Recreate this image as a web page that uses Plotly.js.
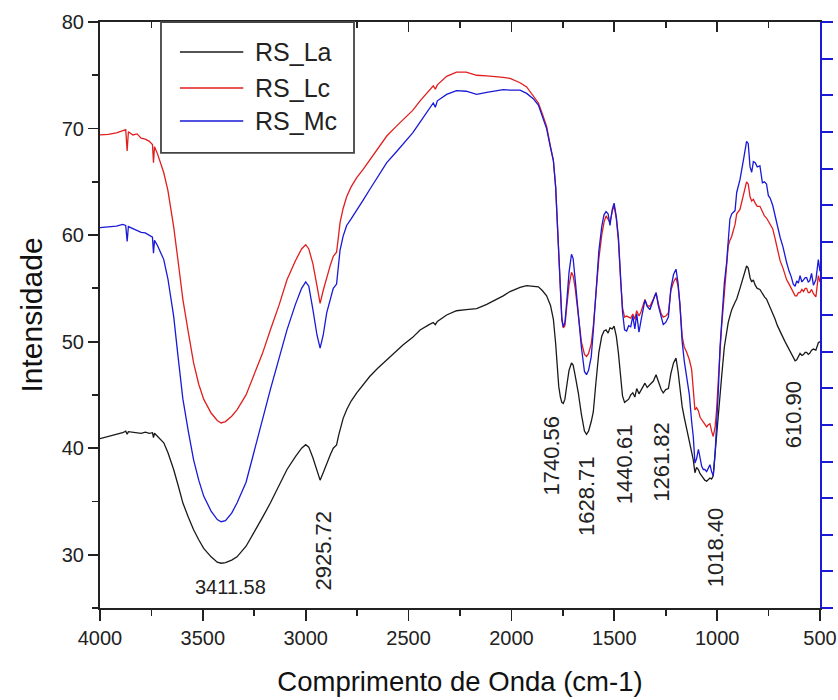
<!DOCTYPE html>
<html>
<head>
<meta charset="utf-8">
<script src="https://cdn.plot.ly/plotly-3.0.1.min.js"></script>
<style>html,body{margin:0;padding:0;background:#fff;}#chart{width:838px;height:700px;}</style>
</head>
<body>
<div id="chart"></div>
<script>
// Wavenumber (cm-1) shared by the three spectra
const wavenumber = [4000,3960,3920,3890,3875,3868,3862,3840,3820,3800,3780,3760,3745,3740,3735,3720,3705,3690,3670,3655,3642,3620,3597,3570,3545,3520,3496,3460,3430,3411,3390,3360,3334,3290,3253,3210,3172,3130,3091,3050,3020,3000,2985,2965,2945,2930,2915,2898,2880,2866,2850,2840,2833,2818,2801,2780,2752,2720,2688,2650,2606,2560,2526,2480,2444,2400,2380,2370,2360,2315,2267,2220,2169,2120,2088,2040,2007,1958,1926,1894,1869,1850,1829,1810,1796,1785,1777,1770,1762,1755,1748,1740,1730,1720,1708,1700,1690,1675,1660,1645,1635,1625,1612,1602,1590,1575,1561,1550,1540,1530,1521,1510,1501,1490,1480,1470,1460,1450,1440,1430,1420,1410,1400,1391,1380,1370,1360,1351,1340,1327,1310,1297,1285,1272,1262,1250,1237,1225,1212,1200,1190,1181,1170,1160,1148,1135,1124,1116,1108,1100,1091,1083,1075,1067,1060,1051,1043,1035,1027,1019,1010,1003,994,986,978,965,954,946,938,929,913,905,889,870,857,849,840,832,824,815,805,792,780,770,760,751,743,730,720,707,694,680,670,662,650,640,630,621,613,605,597,588,580,572,565,557,550,541,532,520,508,500];

const rsLa = [40.9,41.1,41.3,41.45,41.6,41.3,41.55,41.5,41.45,41.4,41.5,41.4,41.45,41.0,41.4,41.1,40.8,40.5,39.6,38.8,38.0,36.5,34.85,33.5,32.35,31.4,30.6,29.8,29.3,29.2,29.25,29.5,29.8,30.8,32.0,33.5,34.85,36.5,38.0,39.2,40.0,40.33,40.1,39.1,37.9,37.0,37.7,38.6,39.4,40.0,40.3,41.2,41.7,42.8,43.6,44.4,45.2,46.0,46.75,47.5,48.3,49.1,49.7,50.4,51.1,51.6,51.8,51.6,51.9,52.5,52.9,53.0,53.1,53.5,53.8,54.3,54.7,55.1,55.25,55.2,55.15,54.8,54.3,53.4,52.1,49.8,47.4,45.8,44.8,44.3,44.2,44.6,46.0,47.3,48.0,47.8,46.8,45.2,43.2,41.6,41.3,41.6,42.5,43.4,46.0,49.0,50.5,51.0,51.1,50.8,51.3,51.2,51.45,50.5,48.95,46.6,44.9,44.3,44.5,44.6,45.0,45.2,44.8,45.6,45.1,45.5,45.8,46.1,45.7,46.0,46.3,46.9,46.2,45.5,45.2,45.5,45.6,47.0,48.0,48.45,47.2,45.6,43.9,42.9,41.8,40.6,39.9,38.9,37.7,38.2,38.0,37.6,37.4,37.2,37.0,36.9,37.1,37.2,37.1,37.4,39.5,41.2,43.5,45.0,46.75,49.5,51.0,51.8,52.4,53.0,53.7,54.0,55.0,56.3,57.1,56.9,56.0,55.6,55.8,55.3,55.0,54.9,54.5,54.2,54.0,53.6,53.3,52.8,52.2,51.5,50.9,50.4,50.0,49.7,49.3,48.8,48.4,48.2,48.3,48.6,48.9,48.7,48.8,49.0,49.0,48.8,48.9,49.2,49.3,49.2,49.9,50.0];

const rsLc = [69.4,69.45,69.6,69.8,69.9,67.9,69.7,69.4,69.5,69.1,69.0,68.8,68.5,66.8,68.3,67.6,66.8,65.85,64.2,62.5,60.8,57.5,53.95,50.8,48.0,46.0,44.6,43.3,42.6,42.37,42.5,43.0,43.6,45.0,46.75,48.9,51.1,53.4,55.8,57.6,58.7,59.1,58.7,57.3,55.2,53.6,54.8,56.1,57.2,58.0,58.4,60.0,61.2,62.5,63.6,64.5,65.4,66.2,67.1,68.1,69.3,70.2,70.8,71.7,72.6,73.6,74.0,73.7,74.1,74.9,75.3,75.3,75.0,74.95,74.9,74.8,74.7,74.3,73.9,73.1,72.4,71.4,70.2,68.3,67.0,64.5,61.5,58.5,54.5,52.0,51.3,51.5,53.5,55.3,56.5,56.2,55.0,52.7,50.0,48.8,48.6,48.9,49.8,51.45,54.5,57.8,60.0,61.2,61.8,61.5,61.2,62.2,62.8,61.5,59.5,56.0,53.2,52.3,52.4,52.3,52.2,52.6,52.1,52.9,52.4,52.8,53.4,53.95,53.4,53.3,54.0,54.6,53.5,52.6,52.3,52.4,52.7,54.8,55.6,56.0,55.2,53.5,50.5,49.5,49.0,48.3,47.4,45.5,43.6,43.8,43.5,42.9,42.65,42.4,42.3,42.0,42.2,42.3,41.6,41.1,42.0,43.5,46.5,49.5,51.5,54.5,57.7,59.0,59.5,59.9,61.0,62.0,62.4,63.8,65.0,64.8,63.6,63.2,63.35,63.0,62.7,62.7,62.2,61.8,61.6,61.3,61.15,60.6,59.8,58.6,57.6,56.9,56.2,55.8,55.4,55.0,54.6,54.3,54.3,54.6,54.6,54.9,54.7,55.0,55.0,54.6,54.6,54.9,54.5,54.2,56.2,55.6];

const rsMc = [60.7,60.75,60.85,61.0,60.9,59.4,60.8,60.6,60.4,60.25,60.2,60.0,59.8,58.3,59.5,59.0,58.3,57.7,55.9,54.2,52.4,48.5,44.6,41.5,38.9,37.0,35.5,34.1,33.3,33.1,33.2,33.9,34.85,36.8,39.55,42.5,45.5,48.4,51.1,53.5,55.0,55.6,55.2,53.0,50.6,49.4,50.6,52.7,54.0,55.0,55.4,57.5,58.6,59.9,60.9,61.5,62.3,63.3,64.3,65.4,66.8,67.8,68.6,69.6,70.6,71.8,72.4,72.0,72.6,73.2,73.55,73.5,73.2,73.4,73.5,73.65,73.6,73.6,73.3,72.8,72.2,71.2,70.0,68.2,67.0,64.5,61.5,58.6,54.8,52.2,51.4,51.8,54.0,56.5,58.2,57.8,55.8,52.7,49.5,47.2,46.9,47.3,48.6,51.0,54.8,58.5,60.8,61.9,62.2,62.0,60.9,62.4,63.0,61.7,59.8,56.5,52.8,51.1,51.0,51.5,51.4,52.4,51.2,52.6,50.9,52.0,53.2,53.9,53.3,53.0,53.9,54.6,53.3,52.2,51.6,51.8,52.3,55.0,56.3,56.8,55.5,53.5,50.0,48.2,46.5,45.0,42.5,41.1,38.6,39.0,39.9,39.0,38.3,38.0,38.0,37.8,38.2,38.45,37.8,37.4,39.5,42.0,45.5,49.5,52.0,55.5,57.4,59.5,61.5,62.0,62.3,64.0,65.2,67.3,68.8,68.6,66.4,65.9,66.9,66.8,66.4,66.5,64.9,65.0,64.8,63.7,63.5,62.8,61.9,60.7,59.8,58.9,58.0,57.4,56.6,56.1,55.4,55.2,55.7,55.5,56.2,55.6,55.8,56.0,56.0,55.6,55.7,56.4,55.3,55.8,57.7,56.6];

const seriesNames = ['RS_La', 'RS_Lc', 'RS_Mc'];
const peakLabels = ['3411.58', '2925.72', '1740.56', '1628.71', '1440.61', '1261.82', '1018.40', '610.90'];
const xTickVals = [4000, 3500, 3000, 2500, 2000, 1500, 1000, 500];
const yTickVals = [30, 40, 50, 60, 70, 80];

const colors = ['#1a1a1a', 'rgb(225,30,30)', 'rgb(25,25,215)'];
const seriesY = [rsLa, rsLc, rsMc];
const font = 'Liberation Sans, Arial, sans-serif';

const traces = seriesY.map((ys, i) => ({
  type: 'scatter', mode: 'lines', x: wavenumber, y: ys, name: seriesNames[i],
  line: {color: colors[i], width: 1.3}, showlegend: false, hoverinfo: 'skip'
}));
// empty helper trace so the mirrored top axis and blue right axis exist
traces.push({type: 'scatter', mode: 'lines', x: [], y: [], xaxis: 'x2', yaxis: 'y2', showlegend: false, hoverinfo: 'skip'});

// placement of peak labels: [pixel shift, y position, angle, font size]
const labelPlace = [[9, 26.95, 0, 20], [2, 30.4, -90, 22], [-13, 39.3, -90, 22], [-2, 35.5, -90, 22], [-2.5, 38.5, -90, 22], [-2.6, 38.7, -90, 22], [1.6, 30.7, -90, 22], [-4, 43.1, -90, 22]];
const annotations = peakLabels.map((t, i) => ({
  x: parseFloat(t), y: labelPlace[i][1], xref: 'x', yref: 'y', text: t, showarrow: false,
  textangle: labelPlace[i][2], xshift: labelPlace[i][0], xanchor: 'center', yanchor: 'middle',
  font: {family: font, size: labelPlace[i][3], color: '#222'}
}));

// legend drawn as a box with line samples
const legX0 = 0.0847, legX1 = 0.3528, legY0 = 0.7765;
const legRows = [0.9488, 0.8874, 0.8311];
const shapes = [{type: 'rect', xref: 'paper', yref: 'paper', x0: legX0, x1: legX1, y0: legY0, y1: 1,
  line: {color: '#444', width: 1.8}, fillcolor: 'rgba(255,255,255,1)', layer: 'above'}];
seriesNames.forEach((n, i) => {
  shapes.push({type: 'line', xref: 'paper', yref: 'paper', x0: 0.111, x1: 0.199, y0: legRows[i], y1: legRows[i],
    line: {color: colors[i], width: 1.5}, layer: 'above'});
  annotations.push({xref: 'paper', yref: 'paper', x: 0.2125, y: legRows[i], xanchor: 'left', yanchor: 'middle',
    text: n, showarrow: false, font: {family: font, size: 25, color: '#222'}});
});

const layout = {
  width: 838, height: 700,
  margin: {l: 100, r: 18, t: 22, b: 92},
  paper_bgcolor: '#fff', plot_bgcolor: '#fff',
  font: {family: font, color: '#222'},
  xaxis: {
    range: [4000, 500], tickvals: xTickVals, ticktext: xTickVals.map(String),
    ticks: 'outside', ticklen: 11, tickwidth: 1.8, tickcolor: '#222',
    minor: {dtick: 250, ticks: 'outside', ticklen: 6, tickwidth: 1.8, tickcolor: '#222'},
    showline: true, linecolor: '#222', linewidth: 2, showgrid: false, zeroline: false,
    tickfont: {size: 20, family: font, color: '#222'},
    title: {text: 'Comprimento de Onda (cm-1)', font: {size: 27.5, family: font, color: '#111'}, standoff: 24}
  },
  xaxis2: {
    overlaying: 'x', side: 'top', anchor: 'y', range: [4000, 500], tickvals: xTickVals,
    showticklabels: false, ticks: 'inside', ticklen: 10, tickwidth: 1.8, tickcolor: '#222',
    minor: {dtick: 250, ticks: 'inside', ticklen: 6, tickwidth: 1.8, tickcolor: '#222'},
    showline: true, linecolor: '#222', linewidth: 2, showgrid: false, zeroline: false
  },
  yaxis: {
    range: [25, 80], tickvals: yTickVals, ticktext: yTickVals.map(String),
    ticks: 'outside', ticklen: 10, tickwidth: 1.8, tickcolor: '#222',
    minor: {dtick: 5, tick0: 0, ticks: 'outside', ticklen: 6, tickwidth: 1.8, tickcolor: '#222'},
    showline: true, linecolor: '#222', linewidth: 2, showgrid: false, zeroline: false,
    tickfont: {size: 20, family: font, color: '#222'},
    title: {text: 'Intensidade', font: {size: 30, family: font, color: '#111'}, standoff: 10}
  },
  yaxis2: {
    overlaying: 'y', side: 'right', anchor: 'x', range: [0, 16], dtick: 1, tick0: 0,
    showticklabels: false, ticks: 'outside', ticklen: 11, tickwidth: 2, tickcolor: 'rgb(25,25,215)',
    showline: true, linecolor: 'rgb(25,25,215)', linewidth: 2, showgrid: false, zeroline: false
  },
  showlegend: false,
  annotations: annotations,
  shapes: shapes
};

Plotly.newPlot('chart', traces, layout, {displayModeBar: false, staticPlot: true});
</script>
</body>
</html>
